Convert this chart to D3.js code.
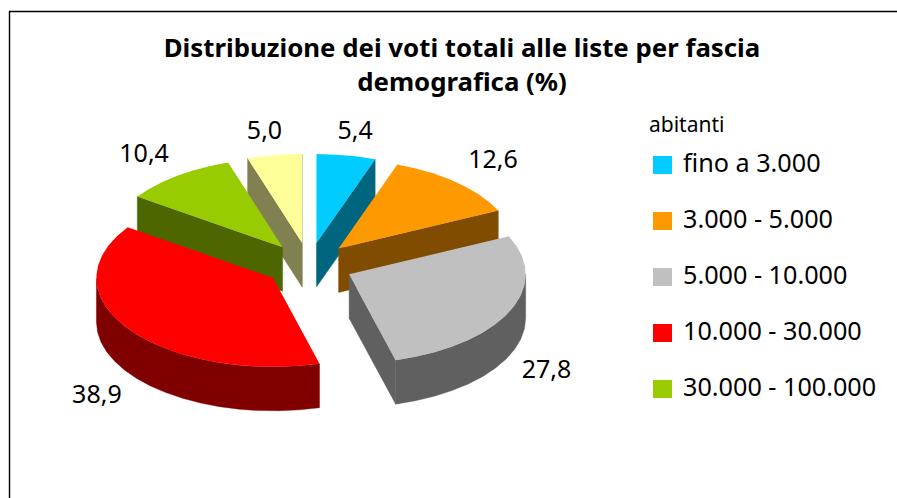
<!DOCTYPE html>
<html><head><meta charset="utf-8">
<script src="https://cdn.jsdelivr.net/npm/d3@7"></script>
<style>html,body{margin:0;padding:0;background:#fff}svg{display:block}text{font-family:"Noto Sans",sans-serif;fill:#000}</style>
</head><body><svg id="c" width="897" height="498"></svg>
<script>
const categories=["fino a 3.000","3.000 - 5.000","5.000 - 10.000","10.000 - 30.000","30.000 - 100.000","oltre 100.000"];
const values=[5.4,12.6,27.8,38.9,10.4,5.0];
const valueLabels=["5,4","12,6","27,8","38,9","10,4","5,0"];
const topColors=["#00ccff","#ff9900","#c0c0c0","#ff0000","#99cc00","#ffff99"];
const wallColors=["#006680","#804d00","#606060","#800000","#4d6600","#808050"];
const titleLines=["Distribuzione dei voti totali alle liste per fascia","demografica (%)"];
const legendTitle="abitanti";
const legendCount=5;
const labelDx=[9,36,37,-32,-33,-10];
const labelDy=[-25,-23,57,65,-23,-25];

const svg=d3.select("#c");
svg.append("path").attr("d","M9.5 498V11.5H897").attr("fill","none").attr("stroke","#000").attr("stroke-width",1.4);

const cx=309,cy=265,Rx=176.6,Ry=89,depth=44,explode=0.25;
const px=d3.scaleLinear().domain([-1,1]).range([cx-Rx,cx+Rx]);
const py=d3.scaleLinear().domain([-1,1]).range([cy+Ry,cy-Ry]);
const pie=d3.pie().sort(null).value(d=>d)(values);
const line=d3.line().curve(d3.curveLinearClosed);
const P=(a,r,off,z)=>[px(off.x+r*Math.sin(a)),py(off.y+r*Math.cos(a))+(z||0)];
const arcPts=(a0,a1,off,z)=>{const n=Math.max(2,Math.ceil((a1-a0)/(Math.PI/26)));return d3.range(n+1).map(i=>P(a0+(a1-a0)*i/n,1,off,z));};

const order=[0,5,4,1,2,3];
const g=svg.append("g");
order.forEach(i=>{
  const s=pie[i],mid=(s.startAngle+s.endAngle)/2;
  const off={x:explode*Math.sin(mid),y:explode*Math.cos(mid)};
  const apex=P(0,0,off),apexB=P(0,0,off,depth);
  const wall=(a)=>{const o=P(a,1,off),b=P(a,1,off,depth);
    g.append("path").attr("d",line([apex,o,b,apexB])).attr("fill",wallColors[i]).attr("stroke",wallColors[i]).attr("stroke-width",.4);};
  // a radial wall shows only when its outward normal points to the viewer (south)
  if(Math.sin(s.startAngle)<0) wall(s.startAngle);
  if(Math.sin(s.endAngle)>0) wall(s.endAngle);
  const v0=Math.max(s.startAngle,Math.PI/2),v1=Math.min(s.endAngle,3*Math.PI/2);
  if(v1>v0){
    const up=arcPts(v0,v1,off,0),dn=arcPts(v0,v1,off,depth).reverse();
    g.append("path").attr("d",line(up.concat(dn))).attr("fill",wallColors[i]).attr("stroke",wallColors[i]).attr("stroke-width",.4);
  }
  g.append("path").attr("d",line([apex].concat(arcPts(s.startAngle,s.endAngle,off,0)))).attr("fill",topColors[i]);
  const outer=P(mid,1,off);
  svg.append("text").attr("x",outer[0]+labelDx[i]).attr("y",outer[1]+labelDy[i]).attr("dy","0.36em")
    .attr("text-anchor","middle").attr("font-size",25).text(valueLabels[i]);
});

svg.selectAll("text.t").data(titleLines).join("text").attr("class","t")
  .attr("x",462).attr("y",(d,i)=>57+i*34).attr("text-anchor","middle")
  .attr("font-size",25.8).attr("font-weight",700).text(d=>d);

svg.append("text").attr("x",649).attr("y",132).attr("font-size",21).text(legendTitle);
const ly=d3.scalePoint().domain(d3.range(legendCount)).range([165,389]);
const leg=svg.selectAll("g.l").data(categories.slice(0,legendCount)).join("g").attr("class","l")
  .attr("transform",(d,i)=>`translate(0,${ly(i)})`);
leg.append("rect").attr("x",653).attr("y",-9).attr("width",19).attr("height",18).attr("fill",(d,i)=>topColors[i]);
leg.append("text").attr("x",683).attr("y",7).attr("font-size",25.2).text(d=>d);
</script></body></html>
